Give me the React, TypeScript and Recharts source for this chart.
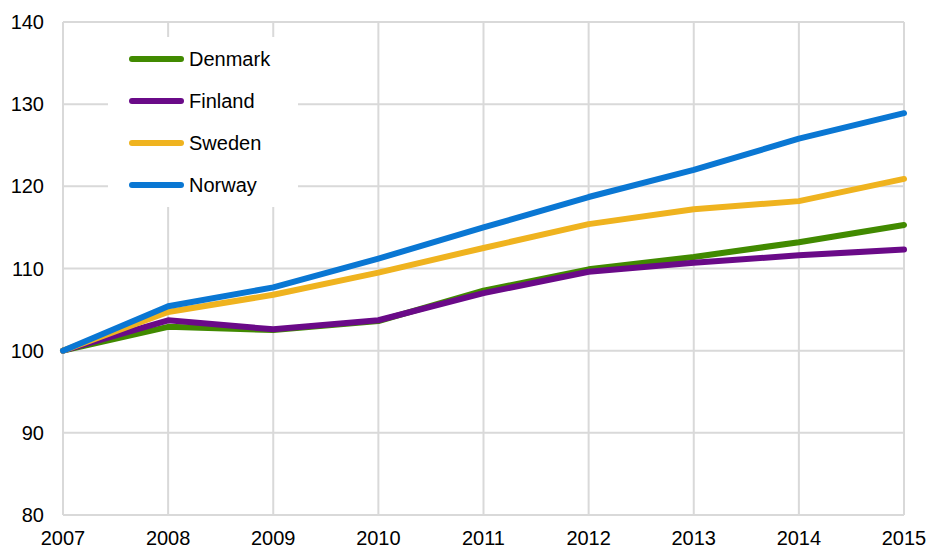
import { LineChart, Line, XAxis, YAxis, CartesianGrid } from "recharts";

const years = ["2007", "2008", "2009", "2010", "2011", "2012", "2013", "2014", "2015"];
const denmark = [100, 102.9, 102.5, 103.6, 107.3, 109.9, 111.4, 113.2, 115.3];
const finland = [100, 103.7, 102.6, 103.7, 107.0, 109.6, 110.7, 111.6, 112.3];
const sweden = [100, 104.7, 106.8, 109.5, 112.5, 115.4, 117.2, 118.2, 120.9];
const norway = [100, 105.4, 107.7, 111.2, 115.0, 118.7, 122.0, 125.8, 128.9];
const yTicks = [80, 90, 100, 110, 120, 130, 140];

const series = [
  { key: "Denmark", color: "#418a00" },
  { key: "Finland", color: "#6a0a88" },
  { key: "Sweden", color: "#efb31f" },
  { key: "Norway", color: "#0a77d3" },
];

const data = years.map((y, i) => ({
  year: y,
  Denmark: denmark[i],
  Finland: finland[i],
  Sweden: sweden[i],
  Norway: norway[i],
}));

const font = "'Liberation Sans', Arial, sans-serif";

function LegendBox() {
  return (
    <div
      style={{
        position: "absolute",
        left: 108,
        top: 37,
        width: 190,
        height: 170,
        background: "#fff",
        fontFamily: font,
      }}
    >
      {series.map((s, i) => (
        <div
          key={s.key}
          style={{ position: "absolute", left: 21, top: 22 + i * 42 - 12, height: 24, display: "flex", alignItems: "center" }}
        >
          <div style={{ width: 55, height: 6, borderRadius: 3, background: s.color }} />
          <span style={{ marginLeft: 5, fontSize: 20, color: "#000" }}>{s.key}</span>
        </div>
      ))}
    </div>
  );
}

export default function App() {
  return (
    <div style={{ position: "absolute", left: 0, top: 0, width: 927, height: 550, background: "#fff" }}>
      <LineChart width={927} height={550} data={data} margin={{ top: 22, right: 23, bottom: 0, left: 0 }}>
        <CartesianGrid stroke="#d9d9d9" strokeWidth={2} />
        <XAxis
          dataKey="year"
          axisLine={false}
          tickLine={false}
          tickSize={0}
          tickMargin={16}
          height={35}
          interval={0}
          tick={{ fill: "#000", fontSize: 20, fontFamily: font }}
        />
        <YAxis
          domain={[80, 140]}
          ticks={yTicks}
          axisLine={false}
          tickLine={false}
          tickSize={0}
          tickMargin={19}
          width={63}
          tick={{ fill: "#000", fontSize: 20, fontFamily: font }}
        />
        {series.map((s) => (
          <Line
            key={s.key}
            type="linear"
            dataKey={s.key}
            stroke={s.color}
            strokeWidth={6}
            strokeLinecap="round"
            strokeLinejoin="round"
            dot={false}
            activeDot={false}
            isAnimationActive={false}
          />
        ))}
      </LineChart>
      <LegendBox />
    </div>
  );
}
